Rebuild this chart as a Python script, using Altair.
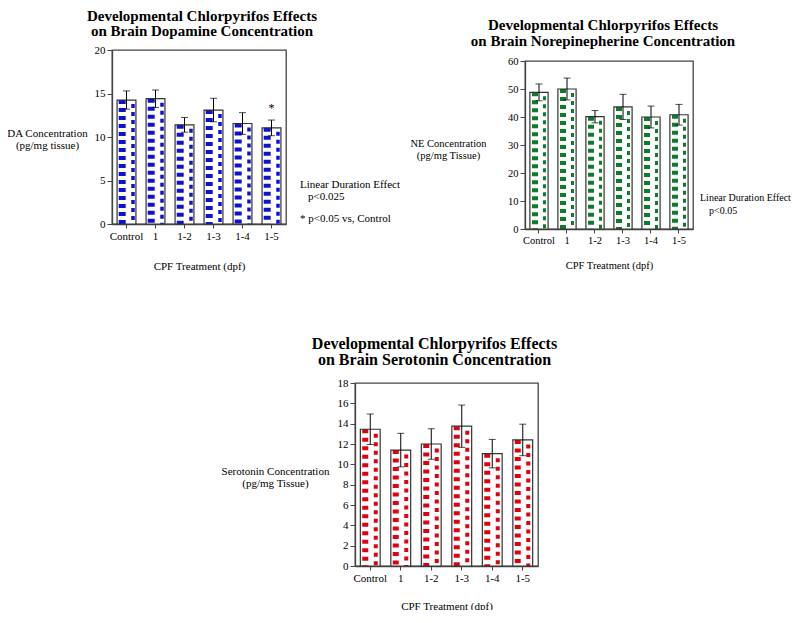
import altair as alt
import pandas as pd

categories = ["Control", "1", "1-2", "1-3", "1-4", "1-5"]

da_mean = [14.25, 14.4, 11.4, 13.1, 11.55, 11.05]
da_sem = [1.05, 1.0, 0.85, 1.35, 1.25, 0.9]
da_sig = ["", "", "", "", "", "*"]

ne_mean = [48.8, 50.0, 40.1, 43.6, 40.0, 40.8]
ne_sem = [3.0, 3.9, 2.2, 4.5, 3.9, 3.7]
ne_sig = ["", "", "", "", "", ""]

ht_mean = [13.45, 11.4, 12.0, 13.75, 11.05, 12.4]
ht_sem = [1.5, 1.65, 1.5, 2.08, 1.4, 1.55]
ht_sig = ["", "", "", "", "", ""]

da_title = ["Developmental Chlorpyrifos Effects", "on Brain Dopamine Concentration"]
ne_title = ["Developmental Chlorpyrifos Effects", "on Brain Norepinepherine Concentration"]
ht_title = ["Developmental Chlorpyrifos Effects", "on Brain Serotonin Concentration"]

da_ytitle = ["DA Concentration", "(pg/mg tissue)"]
ne_ytitle = ["NE Concentration", "(pg/mg Tissue)"]
ht_ytitle = ["Serotonin Concentration", "(pg/mg Tissue)"]

x_title = "CPF Treatment (dpf)"

da_notes = ["Linear Duration Effect", "p<0.025", "* p<0.05 vs, Control"]
ne_notes = ["Linear Duration Effect", "p<0.05"]

FONT = "Liberation Serif"


def panel(mean, sem, sig, color, ymax, ystep, title_lines, title_fs, title_lh,
          title_offset, title_dx, ytitle, ytx, yty, w, h, fs, xpad,
          pat_l, pat_r, dash, notes=None, note_pos=None, note_fs=11):
    df = pd.DataFrame({"cat": categories, "mean": mean, "sem": sem, "sig": sig})
    base = alt.Chart(df).transform_calculate(
        lo="datum.mean - datum.sem", hi="datum.mean + datum.sem"
    )
    x = alt.X(
        "cat:N", sort=categories,
        scale=alt.Scale(paddingInner=0.35, paddingOuter=0.175),
        axis=alt.Axis(title=x_title, labelAngle=0, labelFontSize=fs, titleFontSize=fs,
                      tickSize=4, labelPadding=2, titlePadding=xpad),
    )
    yaxis = alt.Axis(values=list(range(0, ymax + 1, ystep)), title=ytitle, titleAngle=0,
                     titleAlign="center", titleBaseline="middle", titleX=ytx, titleY=yty,
                     titleLineHeight=12, labelFontSize=fs, titleFontSize=fs, tickSize=5,
                     labelPadding=2, grid=False)
    yscale = alt.Scale(domain=[0, ymax], nice=False)

    def Y(f):
        return alt.Y(f, type="quantitative", scale=yscale, axis=yaxis)

    bar_fill = base.mark_bar(color="white").encode(x=x, y=Y("mean"))
    pat1 = base.mark_rule(color=color, strokeWidth=pat_l[1], strokeDash=dash,
                          xOffset=pat_l[0]).encode(x=x, y=Y("mean"), y2=alt.datum(0))
    pat2 = base.mark_rule(color=color, strokeWidth=pat_r[1], strokeDash=dash,
                          strokeDashOffset=dash[0], xOffset=pat_r[0]).encode(
        x=x, y=Y("mean"), y2=alt.datum(0))
    outline = base.mark_bar(fill="white", fillOpacity=0, stroke="#333",
                            strokeWidth=1.2).encode(x=x, y=Y("mean"))
    err = base.mark_rule(color="black", strokeWidth=1).encode(x=x, y=Y("lo"), y2="hi:Q")
    cap_hi = base.mark_tick(color="black", size=7, thickness=1).encode(x=x, y=Y("hi"))
    cap_lo = base.mark_tick(color="black", size=7, thickness=1).encode(x=x, y=Y("lo"))
    star = base.mark_text(font=FONT, fontSize=12, baseline="middle", dy=-12,
                          color="black").encode(x=x, y=Y("hi"), text="sig:N")
    layers = [bar_fill, pat1, pat2, outline, err, cap_hi, cap_lo, star]
    if notes:
        for t, (px, py) in zip(notes, note_pos):
            layers.append(
                alt.Chart(pd.DataFrame({"t": [t]})).mark_text(
                    align="left", baseline="middle", font=FONT, fontSize=note_fs,
                    color="black"
                ).encode(x=alt.value(px), y=alt.value(py), text="t:N")
            )
    return alt.layer(*layers).properties(
        width=w, height=h,
        title=alt.TitleParams(text=title_lines, font=FONT, fontSize=title_fs,
                              fontWeight="bold", anchor="middle", offset=title_offset,
                              dx=title_dx, lineHeight=title_lh, color="black"),
    )


c1 = panel(da_mean, da_sem, da_sig, "#1010d0", 20, 5, da_title, 15, 15, 5, 3,
           da_ytitle, -65, 83, 174, 174, 11, 19, (-4.3, 7), (6.5, 3.5), [4, 4],
           da_notes, [(188, 135), (196, 147), (188, 169)], 11)
c2 = panel(ne_mean, ne_sem, ne_sig, "#0b7d2a", 60, 10, ne_title, 15, 16, 7, -6,
           ne_ytitle, -77, 82, 168, 168, 10.5, 15, (-4, 6), (5.5, 3), [4, 4],
           ne_notes, [(175, 137), (184, 150)], 10)
c3 = panel(ht_mean, ht_sem, ht_sig, "#e00010", 18, 2, ht_title, 16, 16, 9, -12,
           ht_ytitle, -80, 88, 183, 183, 11, 17, (-5, 6), (5.5, 4), [4, 4.5])

BLANK = alt.ViewBackground(stroke="transparent")


def vspacer(hgt):
    return alt.Chart(pd.DataFrame({"s": [0]})).mark_rule(strokeOpacity=0).encode(
        x=alt.value(0), y=alt.value(0), y2=alt.value(hgt)
    ).properties(width=1, height=hgt, view=BLANK)


hspace = alt.Chart(pd.DataFrame({"s": [0]})).mark_rule(strokeOpacity=0).encode(
    x=alt.value(0), x2=alt.value(107), y=alt.value(0)
).properties(width=107, height=1, view=BLANK)

top = alt.hconcat(
    alt.vconcat(vspacer(1), c1, spacing=0),
    alt.vconcat(vspacer(10), c2, spacing=0),
    spacing=8,
)
bottom = alt.hconcat(hspace, c3, spacing=0)

chart = alt.vconcat(top, bottom, spacing=63).properties(
    padding={"left": -3, "top": -3, "right": 0, "bottom": -2}
).configure_view(
    stroke="#444", strokeWidth=1.3
).configure_axis(
    labelFont=FONT, titleFont=FONT, titleFontWeight="normal", labelColor="black",
    titleColor="black", domainColor="#444", tickColor="#444", domainWidth=1.3
)

chart.save("out.html", embed_options={"renderer": "svg", "actions": False})
